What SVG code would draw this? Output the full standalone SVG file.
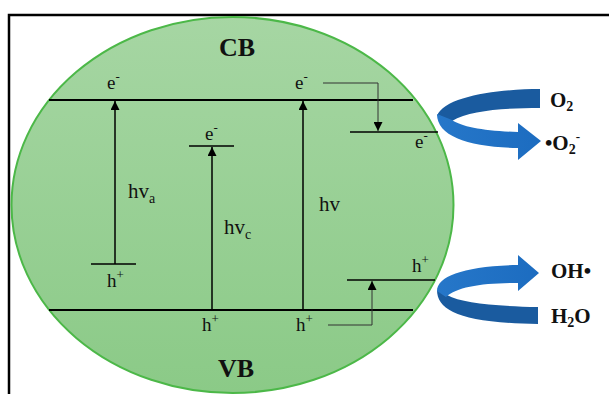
<svg xmlns="http://www.w3.org/2000/svg" width="609" height="394" viewBox="0 0 609 394">
<defs>
<linearGradient id="gfill" x1="0" y1="0" x2="0" y2="1">
<stop offset="0" stop-color="#a6d6a3"/>
<stop offset="1" stop-color="#8bca87"/>
</linearGradient>
<linearGradient id="bfront" x1="0" y1="0" x2="1" y2="0">
<stop offset="0" stop-color="#2677c9"/>
<stop offset="1" stop-color="#1c6cc0"/>
</linearGradient>
<marker id="ah" viewBox="0 0 10 10" refX="10" refY="5" markerWidth="9" markerHeight="9" markerUnits="userSpaceOnUse" orient="auto">
<path d="M0,0 L10,5 L0,10 z" fill="#000"/>
</marker>
<style>
.lbl{font-family:"Liberation Serif","Times New Roman",serif;font-size:19px;fill:#111}
.hv{font-family:"Liberation Serif","Times New Roman",serif;font-size:21px;fill:#111}
.sup{font-size:13px}
.sub{font-size:14px}
.big{font-family:"Liberation Serif","Times New Roman",serif;font-size:26px;font-weight:bold;fill:#111}
.chem{font-family:"Liberation Serif","Times New Roman",serif;font-size:21px;font-weight:bold;fill:#111}
.band{stroke:#000;stroke-width:2;fill:none}
.lev{stroke:#000;stroke-width:1.6;fill:none}
.arr{stroke:#000;stroke-width:1.5;fill:none;marker-end:url(#ah)}
.thin{stroke:#333;stroke-width:1;fill:none;marker-end:url(#ah)}
.dark{fill:#1a5b9f}
.front{fill:url(#bfront)}
</style>
</defs>
<rect x="0" y="0" width="609" height="394" fill="#fff"/>
<rect x="9" y="15" width="620" height="400" fill="none" stroke="#000" stroke-width="2.5"/>

<g id="particle">
<ellipse cx="232.5" cy="205" rx="221" ry="188" fill="url(#gfill)" stroke="#4cb848" stroke-width="2"/>
<text class="big" x="237" y="56" text-anchor="middle">CB</text>
<text class="big" x="236" y="377" text-anchor="middle">VB</text>
</g>

<g id="cb-band"><line class="band" x1="49" y1="100" x2="413" y2="100"/></g>
<g id="vb-band"><line class="band" x1="49" y1="310" x2="413" y2="310"/></g>

<g id="level-a"><line class="lev" x1="91" y1="264" x2="136" y2="264"/></g>
<g id="level-c"><line class="lev" x1="189" y1="146" x2="234" y2="146"/></g>
<g id="level-e"><line class="lev" x1="350" y1="132" x2="438" y2="132"/></g>
<g id="level-h"><line class="lev" x1="347" y1="280" x2="435" y2="280"/></g>

<g id="connectors">
<line class="arr" x1="115" y1="264" x2="115" y2="101"/>
<line class="arr" x1="212" y1="310" x2="212" y2="147"/>
<line class="arr" x1="303" y1="310" x2="303" y2="101"/>
<path class="thin" d="M323,83 H378 V131"/>
<path class="thin" d="M328,325 H372 V281"/>
</g>

<g id="labels">
<text class="lbl" x="107" y="89">e<tspan class="sup" dy="-8">-</tspan></text>
<text class="lbl" x="295" y="89">e<tspan class="sup" dy="-8">-</tspan></text>
<text class="lbl" x="205" y="140">e<tspan class="sup" dy="-8">-</tspan></text>
<text class="lbl" x="415" y="148">e<tspan class="sup" dy="-8">-</tspan></text>
<text class="lbl" x="107" y="287">h<tspan class="sup" dy="-8">+</tspan></text>
<text class="lbl" x="202" y="331">h<tspan class="sup" dy="-8">+</tspan></text>
<text class="lbl" x="296" y="331">h<tspan class="sup" dy="-8">+</tspan></text>
<text class="lbl" x="412" y="272">h<tspan class="sup" dy="-8">+</tspan></text>
<text class="hv" x="128" y="198">hv<tspan class="sub" dy="5">a</tspan></text>
<text class="hv" x="224" y="234">hv<tspan class="sub" dy="5">c</tspan></text>
<text class="hv" x="319" y="211">hv</text>
</g>

<g id="arrow-o2">
<path class="dark" d="M540,89 L540,108 C505,108 470,110 452,121 L437,116 C444,96 500,89 540,89 Z"/>
<path class="front" d="M437,114 C437,137 470,147 518,148 L518,160 L541,141 L518,123 L518,132 C485,131 462,127 452,120 Z"/>
</g>
<g id="arrow-h2o">
<path class="dark" d="M437,290 C437,311 462,323 538,324 L538,307 C492,306 462,303 447,295 Z"/>
<path class="front" d="M437,291 C437,276 465,266 518,265 L518,255 L539,273 L518,291 L518,283 C482,283 457,287 446,297 Z"/>
</g>

<g id="species">
<text class="chem" x="550" y="107">O<tspan class="sub" dy="4">2</tspan></text>
<text class="chem" x="545" y="150">•O<tspan class="sub" dy="4">2</tspan><tspan class="sup" dy="-13">-</tspan></text>
<text class="chem" x="551" y="278">OH•</text>
<text class="chem" x="551" y="323">H<tspan class="sub" dy="4">2</tspan><tspan dy="-4">O</tspan></text>
</g>
</svg>
